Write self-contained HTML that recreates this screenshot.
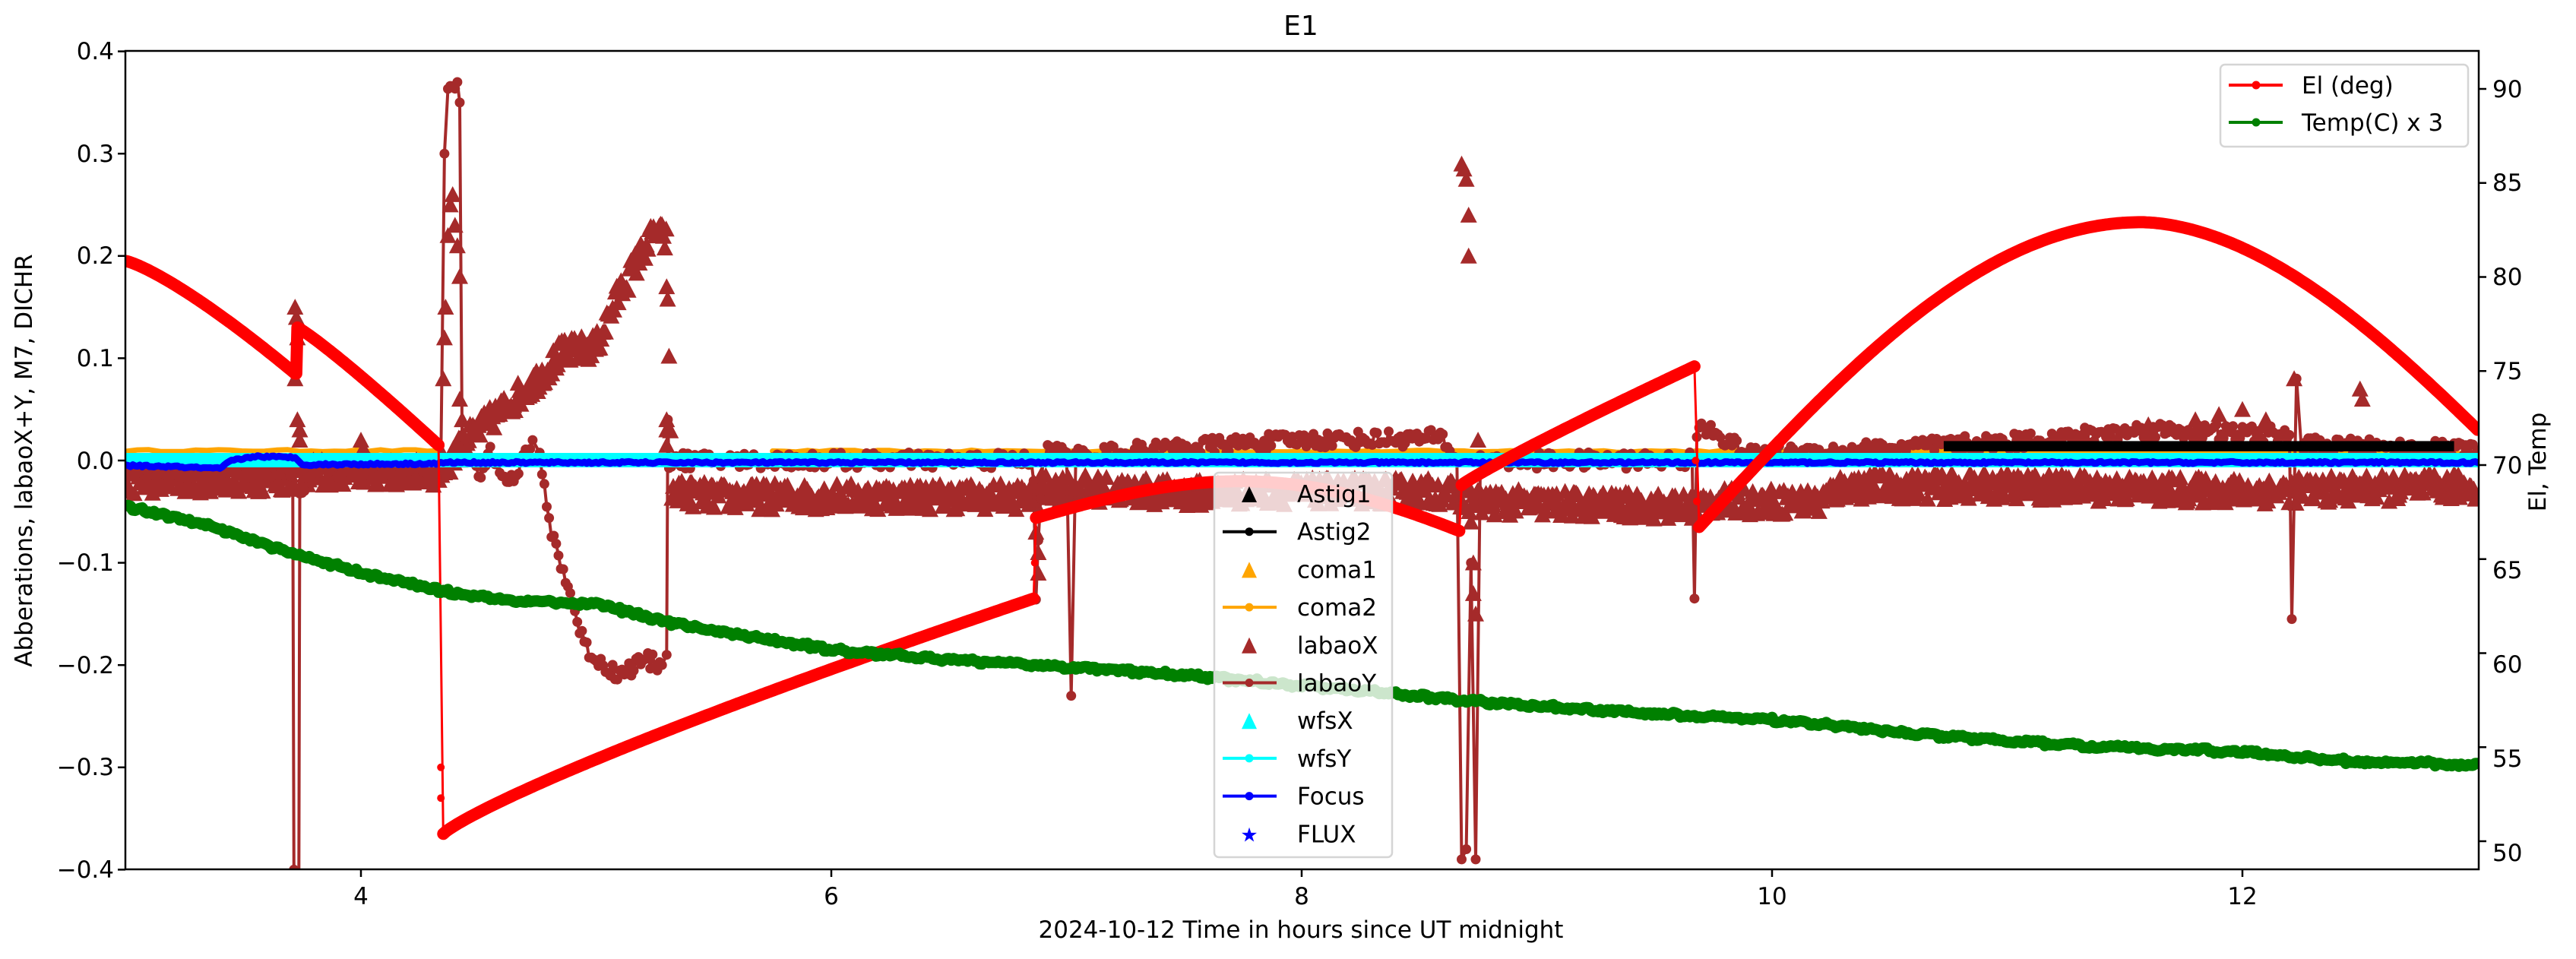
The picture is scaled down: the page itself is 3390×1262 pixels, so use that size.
<!DOCTYPE html>
<html><head><meta charset="utf-8"><style>
html,body{margin:0;padding:0;background:#fff;}
svg{display:block;font-family:"DejaVu Sans","Liberation Sans",sans-serif;}
</style></head><body>
<svg id="s" width="3390" height="1262" viewBox="0 0 3390 1262" xmlns="http://www.w3.org/2000/svg">
<defs><clipPath id="c"><rect x="165" y="67" width="3097" height="1077"/></clipPath></defs>
<rect width="3390" height="1262" fill="#fff"/>
<g id="data" clip-path="url(#c)"></g>
<rect x="165" y="67" width="3097" height="1077" fill="none" stroke="#000" stroke-width="2.5"/>
<g id="ticks" stroke="#000" stroke-width="2.5"></g>
<g font-size="31" fill="#000">
<text x="150" y="78" text-anchor="end">0.4</text>
<text x="150" y="213" text-anchor="end">0.3</text>
<text x="150" y="347" text-anchor="end">0.2</text>
<text x="150" y="482" text-anchor="end">0.1</text>
<text x="150" y="617" text-anchor="end">0.0</text>
<text x="150" y="751" text-anchor="end">−0.1</text>
<text x="150" y="886" text-anchor="end">−0.2</text>
<text x="150" y="1020" text-anchor="end">−0.3</text>
<text x="150" y="1155" text-anchor="end">−0.4</text>
<text x="475" y="1190" text-anchor="middle">4</text>
<text x="1094" y="1190" text-anchor="middle">6</text>
<text x="1713" y="1190" text-anchor="middle">8</text>
<text x="2332" y="1190" text-anchor="middle">10</text>
<text x="2951" y="1190" text-anchor="middle">12</text>
<text x="3280" y="1133" >50</text>
<text x="3280" y="1009" >55</text>
<text x="3280" y="885" >60</text>
<text x="3280" y="761" >65</text>
<text x="3280" y="623" >70</text>
<text x="3280" y="499" >75</text>
<text x="3280" y="375" >80</text>
<text x="3280" y="251" >85</text>
<text x="3280" y="128" >90</text>
<text x="1712" y="1234" text-anchor="middle">2024-10-12  Time in hours since UT midnight</text>
<text transform="translate(42,606) rotate(-90)" text-anchor="middle">Abberations, labaoX+Y, M7, DICHR</text>
<text transform="translate(3350,608) rotate(-90)" text-anchor="middle">El, Temp</text>
<text x="1712" y="46" text-anchor="middle" font-size="36">E1</text>
</g>
<rect x="2922" y="85" width="326" height="108" rx="6" fill="#fff" fill-opacity="0.85" stroke="#d5d5d5" stroke-width="2.5"/>
<line x1="2933" y1="112" x2="3004" y2="112" stroke="#f00" stroke-width="4"/><circle cx="2969" cy="112" r="5.5" fill="#f00"/>
<line x1="2933" y1="161" x2="3004" y2="161" stroke="#008000" stroke-width="4"/><circle cx="2969" cy="161" r="5.5" fill="#008000"/>
<text x="3029" y="123" font-size="31">El (deg)</text>
<text x="3029" y="172" font-size="31">Temp(C) x 3</text>
<g id="leg"></g>
</svg>
<script>
(function(){
var NS="http://www.w3.org/2000/svg";
function X(t){return 165.5+309.5*(t-3);}
function Y(v){return 606-1346*v;}
var seed=12345;function rnd(){seed=(seed*16807)%2147483647;return seed/2147483647;}
function el(tag,attrs,parent){var e=document.createElementNS(NS,tag);for(var k in attrs)e.setAttribute(k,attrs[k]);(parent||document.getElementById('data')).appendChild(e);return e;}
function interp(kp,t){for(var i=0;i<kp.length-1;i++){if(t>=kp[i][0]&&t<=kp[i+1][0]){var a=kp[i],b=kp[i+1];var f=(t-a[0])/((b[0]-a[0])||1);return a[1]+(b[1]-a[1])*f;}}return kp[kp.length-1][1];}
function sample(kp,step,noise){var pts=[];for(var i=0;i<kp.length-1;i++){var a=kp[i],b=kp[i+1];var dt=b[0]-a[0];if(dt<0.03){pts.push([a[0],a[1]]);continue;}var n=Math.max(1,Math.round(dt/step));for(var j=0;j<n;j++){var t=a[0]+dt*j/n;pts.push([t,a[1]+(b[1]-a[1])*j/n+(rnd()-0.5)*noise]);}}pts.push(kp[kp.length-1]);return pts;}
function poly(pts,color,w,parent){var d=pts.map(function(p){return X(p[0]).toFixed(1)+','+Y(p[1]).toFixed(1);}).join(' ');return el('polyline',{points:d,fill:'none',stroke:color,'stroke-width':w,'stroke-linejoin':'round','stroke-linecap':'round'},parent);}
function tris(pts,color,sz){var d='';pts.forEach(function(p){var x=X(p[0]),y=Y(p[1]);d+='M'+(x-sz/2).toFixed(1)+' '+(y+sz*0.45).toFixed(1)+'h'+sz+'l'+(-sz/2)+' '+(-sz*0.95)+'z';});el('path',{d:d,fill:color});}
function dots(pts,color,r){var d='';pts.forEach(function(p){var x=X(p[0]),y=Y(p[1]);d+='M'+(x-r).toFixed(1)+' '+y.toFixed(1)+'a'+r+' '+r+' 0 1 0 '+(2*r)+' 0a'+r+' '+r+' 0 1 0 '+(-2*r)+' 0z';});el('path',{d:d,fill:color});}

var tg=document.getElementById('ticks');
[0.4,0.3,0.2,0.1,0,-0.1,-0.2,-0.3,-0.4].forEach(function(v){el('line',{x1:155,y1:Y(v),x2:165,y2:Y(v)},tg);});
[4,6,8,10,12].forEach(function(t){el('line',{x1:X(t),y1:1144,x2:X(t),y2:1154},tg);});
[50,55,60,65,70,75,80,85,90].forEach(function(d){var y=612-24.75*(d-70);el('line',{x1:3262,y1:y,x2:3272,y2:y},tg);});

// Orange
poly(sample([[3,0.0097],[4.33,0.0095]],0.05,0.002),'#ffa500',7);
poly(sample([[5.75,0.009],[10.73,0.009]],0.05,0.002),'#ffa500',7);
poly(sample([[10.73,0.008],[13,0.008]],0.05,0.001),'#ffa500',4);

// labaoX triangles
var bx=[[3,-0.02],[3.7,-0.017],[3.75,-0.012],[4.33,-0.012],[4.45,0.02],[4.6,0.05],[4.75,0.08],[4.85,0.105],[5.0,0.112],[5.1,0.165],[5.25,0.225],[5.3,0.215],[5.32,-0.03],[5.5,-0.035],[6.0,-0.035],[6.85,-0.035],[6.9,-0.025],[7.5,-0.032],[7.8,-0.03],[8.6,-0.03],[8.75,-0.04],[9.0,-0.042],[9.65,-0.045],[9.75,-0.04],[10.2,-0.04],[10.3,-0.025],[11,-0.025],[12,-0.03],[13,-0.025]];
var tp=[];for(var t=3;t<=13;t+=0.006){tp.push([t,interp(bx,t)+(rnd()-0.5)*0.026]);}
[[3.72,0.15],[3.725,0.14],[3.73,0.12],[3.72,0.08],[3.73,0.04],[3.74,0.03],[3.74,0.02],[4.0,0.02],[4.01,0.012],
[4.35,0.08],[4.355,0.12],[4.36,0.15],[4.37,0.22],[4.38,0.25],[4.39,0.26],[4.40,0.23],[4.41,0.21],[4.42,0.18],[4.42,0.06],[4.43,0.04],[4.44,0.02],
[5.3,0.04],[5.3,0.03],[5.3,0.015],[5.3,0.17],[8.68,0.29],[8.69,0.285],[8.7,0.275],[8.71,0.24],[8.71,0.2],[8.72,-0.06],[8.73,-0.1],[8.73,-0.13],[8.74,-0.15],
[6.87,-0.07],[6.88,-0.09],[6.88,-0.11],[12.22,0.08],[12.5,0.07],[12.51,0.06],[11.9,0.045],[12.0,0.05],[11.8,0.04],[12.1,0.04],[11.6,0.035],[8.75,0.02]].forEach(function(p){tp.push(p);});
tris(tp,'#a52a2a',22);

// labaoY
var ky=[[3,-0.01],[3.71,-0.01],[3.715,-0.4],[3.72,-0.5],[3.735,-0.5],[3.74,-0.03],[3.8,-0.01],[4.33,-0.005],[4.34,0.0],[4.355,0.3],[4.37,0.37],[4.41,0.37],[4.42,0.35],[4.43,0.02],[4.47,0.0],[4.5,-0.02],[4.55,0.01],[4.62,-0.015],[4.66,-0.02],[4.7,0.01],[4.73,0.02],[4.76,0.0],[4.8,-0.06],[4.85,-0.1],[4.9,-0.14],[4.95,-0.18],[5.0,-0.195],[5.1,-0.21],[5.2,-0.195],[5.28,-0.2],[5.3,-0.19],[5.305,0.04],[5.31,0.0],[6.85,0.0],[6.86,-0.02],[6.87,-0.13],[6.9,0.008],[7.0,0.008],[7.02,-0.23],[7.04,0.005],[7.5,0.013],[8.0,0.02],[8.6,0.022],[8.66,0.0],[8.68,-0.39],[8.7,-0.38],[8.72,-0.1],[8.74,-0.39],[8.76,0.0],[9.3,0.0],[9.66,0.0],[9.67,-0.135],[9.68,0.03],[9.75,0.03],[9.9,0.005],[10.5,0.012],[11,0.018],[11.6,0.03],[12.2,0.025],[12.21,-0.155],[12.23,0.08],[12.25,0.015],[13,0.01]];
var yp=sample(ky,0.01,0.016);
poly(yp,'#a52a2a',4);dots(yp,'#a52a2a',6.5);

// Black astig band
el('rect',{x:X(10.73),y:Y(0.019),width:X(12.9)-X(10.73),height:Y(0.009)-Y(0.019),fill:'#000'});

// cyan band
el('rect',{x:165,y:Y(0.0074),width:3097,height:Y(-0.0067)-Y(0.0074),fill:'#00ffff'});
var bl=sample([[3,-0.005],[3.2,-0.006],[3.4,-0.008],[3.45,0.0],[3.55,0.004],[3.72,0.003],[3.75,-0.004],[4.33,-0.003],[4.36,-0.002],[13,-0.002]],0.01,0.002);
poly(bl,'#0000ff',9);

// Red El
var red=[];function pushf(a,b,f,n){for(var i=0;i<=n;i++){var t=a+(b-a)*i/n;red.push([t,f(t)]);}}
pushf(3,3.72,function(t){return 0.195-0.11*Math.pow((t-3)/0.72,1.25);},80);
red.push([3.725,0.085]);
pushf(3.73,4.33,function(t){return 0.13-0.115*Math.pow((t-3.73)/0.6,1.1);},70);
var seg1=red;red=[];
pushf(4.35,6.86,function(t){return -0.365+0.23*Math.pow((t-4.35)/2.51,0.85);},200);
var seg2=red;red=[];
pushf(6.87,8.67,function(t){var s=(t-6.87)/1.8;return -0.056+0.045*Math.sin(Math.PI*s*0.92)-0.012*s-0.012*s*s;},160);
var seg3=red;red=[];
pushf(8.68,9.67,function(t){var s=(t-8.68)/0.99;return -0.024+0.116*Math.pow(s,0.92);},100);
var seg4=red;red=[];
pushf(9.69,11.57,function(t){return -0.065+0.298*Math.sin(Math.PI/2*(t-9.69)/1.88);},160);
pushf(11.58,13,function(t){var s=(t-11.57)/1.43;return 0.233-0.203*(1-Math.cos(Math.PI/2*s))*0.6-0.203*0.4*Math.pow(s,1.6);},130);
var seg5=red;
poly([[3.72,0.085],[3.73,0.13]],'#ff0000',3);
poly([[4.33,0.015],[4.35,-0.365]],'#ff0000',3);
poly([[6.86,-0.137],[6.87,-0.056]],'#ff0000',3);
poly([[8.67,-0.07],[8.68,-0.024]],'#ff0000',3);
poly([[9.67,0.092],[9.69,-0.065]],'#ff0000',3);
dots([[4.34,-0.3],[4.34,-0.33],[6.865,-0.1],[9.675,0.0],[9.68,-0.04]],'#ff0000',5);
[seg1,seg2,seg3,seg4,seg5].forEach(function(s){poly(s,'#ff0000',16);});

// Green temp
var gk=[[3,-0.045],[3.3,-0.06],[3.7,-0.09],[4.0,-0.11],[4.4,-0.13],[4.7,-0.138],[5.0,-0.14],[5.3,-0.158],[5.6,-0.17],[6.0,-0.185],[6.5,-0.195],[6.9,-0.2],[7.5,-0.21],[8.0,-0.22],[8.3,-0.226],[8.7,-0.235],[9.0,-0.24],[9.3,-0.245],[9.7,-0.25],[10.1,-0.255],[10.5,-0.265],[11.0,-0.274],[11.4,-0.28],[12.0,-0.285],[12.5,-0.295],[13,-0.297]];
var gp=[];for(var t=3;t<=13;t+=0.01){var v=interp(gk,t);gp.push([t,Math.round(v/0.0025)*0.0025+(rnd()-0.5)*0.003]);}
poly(gp,'#008000',15);

var lg=document.getElementById('leg');
el('rect',{x:1598,y:622,width:234,height:506,rx:6,fill:'#fff','fill-opacity':0.8,stroke:'#d5d5d5','stroke-width':2.5},lg);
var items=[['Astig1','#000','tri'],['Astig2','#000','line'],['coma1','#ffa500','tri'],['coma2','#ffa500','line'],['labaoX','#a52a2a','tri'],['labaoY','#a52a2a','line'],['wfsX','#00ffff','tri'],['wfsY','#00ffff','line'],['Focus','#0000ff','line'],['FLUX','#0000ff','star']];
items.forEach(function(it,i){var y=650+i*49.7;
 if(it[2]=='tri'){el('path',{d:'M1634 '+(y+11)+'h20l-10 -21z',fill:it[1]},lg);}
 else if(it[2]=='line'){el('line',{x1:1609,y1:y,x2:1680,y2:y,stroke:it[1],'stroke-width':4},lg);el('circle',{cx:1644,cy:y,r:5.5,fill:it[1]},lg);}
 else {el('text',{x:1644,y:y+10,'font-size':26,'text-anchor':'middle',fill:it[1]},lg).textContent='★';}
 var tx=el('text',{x:1707,y:y+11,'font-size':31,fill:'#000'},lg);tx.textContent=it[0];});
})();
</script>
</body></html>
